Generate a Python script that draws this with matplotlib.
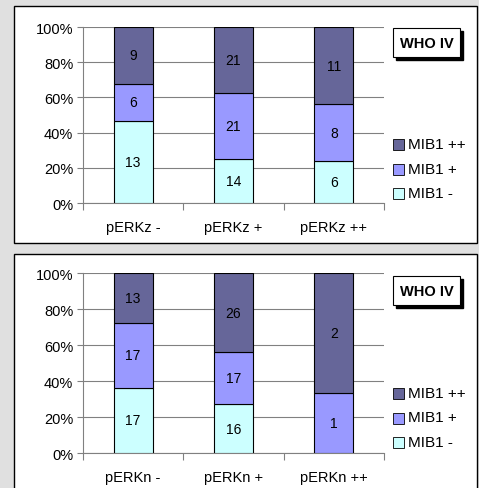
import matplotlib
matplotlib.use("Agg")
import matplotlib.pyplot as plt
from matplotlib.patches import Rectangle
import numpy as np

plt.rcParams["font.family"] = ["Liberation Sans", "DejaVu Sans"]

series = ["MIB1 -", "MIB1 +", "MIB1 ++"]
colors = ["#CCFFFF", "#9999FF", "#666699"]

cats_z = ["pERKz -", "pERKz +", "pERKz ++"]
z_minus = [13, 14, 6]
z_plus = [6, 21, 8]
z_plusplus = [9, 21, 11]

cats_n = ["pERKn -", "pERKn +", "pERKn ++"]
n_minus = [17, 16, 0]
n_plus = [17, 17, 1]
n_plusplus = [13, 26, 2]

W, H = 479, 489
fig = plt.figure(figsize=(W / 100, H / 100), dpi=100)
fig.patch.set_facecolor("#e0e0e0")


def px(x0, y0, x1, y1):
    # pixel box (top-left origin) -> figure fraction rect
    return [x0 / W, 1 - y1 / H, (x1 - x0) / W, (y1 - y0) / H]


def panel(top, bottom, cats, counts, ax_top, ax_bot, ytop_legend):
    r = px(14, top, 477, bottom)
    fig.patches.append(Rectangle((r[0], r[1]), r[2], r[3], transform=fig.transFigure,
                                 facecolor="white", edgecolor="black", lw=1.0, zorder=-5))
    ax = fig.add_axes(px(83, ax_top, 384, ax_bot))
    counts = np.array(counts, dtype=float)
    totals = counts.sum(axis=0)
    pct = counts / totals * 100
    x = np.arange(len(cats)) + 0.5
    bottom_ = np.zeros(len(cats))
    for i, s in enumerate(series):
        ax.bar(x, pct[i], 0.39, bottom=bottom_, color=colors[i], edgecolor="black",
               linewidth=0.8, zorder=3, label=s)
        for j in range(len(cats)):
            if counts[i, j] > 0:
                ax.text(x[j], bottom_[j] + pct[i, j] / 2, f"{int(counts[i, j])}",
                        ha="center", va="center", fontsize=10, zorder=4)
        bottom_ += pct[i]
    ax.set_xlim(0, 3)
    ax.set_ylim(0, 100)
    ax.set_yticks(np.arange(0, 101, 20))
    ax.set_yticklabels([f"{v}%" for v in range(0, 101, 20)], fontsize=10.5)
    ax.set_xticks([0, 1, 2, 3])
    ax.set_xticklabels([])
    ax.set_xticks(x, minor=True)
    ax.set_xticklabels(cats, minor=True, fontsize=10.5)
    ax.tick_params(axis="x", which="minor", length=0, pad=12)
    ax.tick_params(axis="x", which="major", length=5, color="#808080")
    ax.tick_params(axis="y", length=4, color="#808080", pad=3)
    ax.grid(axis="y", color="#808080", linewidth=0.8, zorder=1)
    ax.set_axisbelow(True)
    for side in ("top", "right"):
        ax.spines[side].set_visible(False)
    for side in ("left", "bottom"):
        ax.spines[side].set_color("#808080")

    # WHO IV box with shadow
    s = px(396, top + 25, 463, top + 54)
    fig.patches.append(Rectangle((s[0], s[1]), s[2], s[3], transform=fig.transFigure,
                                 facecolor="black", edgecolor="black", zorder=1))
    b = px(393, top + 22, 460, top + 51)
    fig.patches.append(Rectangle((b[0], b[1]), b[2], b[3], transform=fig.transFigure,
                                 facecolor="white", edgecolor="black", lw=0.8, zorder=2))
    fig.text(b[0] + b[2] / 2, b[1] + b[3] / 2, "WHO IV", ha="center", va="center",
             fontsize=10.5, fontweight="bold", zorder=3)

    # legend drawn manually, top entry first
    for k, i in enumerate([2, 1, 0]):
        yc = top + ytop_legend + k * 24.5
        sq = px(393, yc - 5, 404, yc + 6)
        fig.patches.append(Rectangle((sq[0], sq[1]), sq[2], sq[3], transform=fig.transFigure,
                                     facecolor=colors[i], edgecolor="black", lw=0.6, zorder=2))
        fig.text(408 / W, 1 - yc / H, series[i], ha="left", va="center", fontsize=11)


panel(7, 244, cats_z, [z_minus, z_plus, z_plusplus], 28, 204, 138)
panel(255, 492, cats_n, [n_minus, n_plus, n_plusplus], 274, 454, 139)

fig.savefig("out.png", dpi=100, facecolor=fig.get_facecolor())
